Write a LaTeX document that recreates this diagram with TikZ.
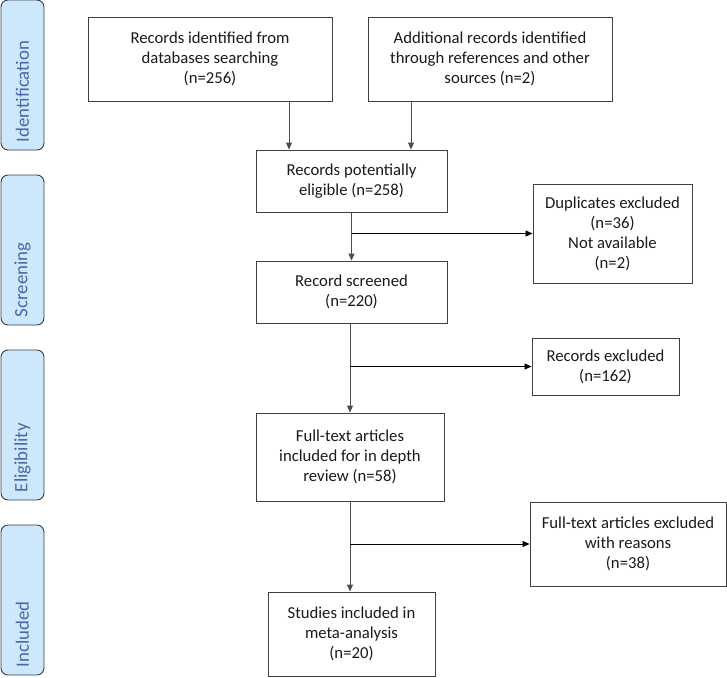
\documentclass[tikz,border=0pt]{standalone}
\usepackage{fontspec}
\setmainfont{Carlito}
\usetikzlibrary{arrows.meta}
\definecolor{sidefill}{RGB}{205,232,251}
\definecolor{sidetext}{RGB}{70,105,165}
\definecolor{sideline}{RGB}{50,60,75}
\begin{document}
\begin{tikzpicture}[x=1pt,y=-1pt, >={Triangle[length=7pt,width=6pt]},
  box/.style={rectangle, draw=black!75, line width=0.9pt, align=center, inner sep=2pt,
    font=\fontsize{16.7}{20}\selectfont, text=black!90},
  side/.style={rectangle, rounded corners=7pt, draw=sideline, line width=0.9pt, fill=sidefill,
    rotate=90, inner xsep=8pt, text width=134pt, align=left, minimum height=43pt, text=sidetext,
    font=\fontsize{18.8}{22}\selectfont},
  trunk/.style={->, draw=black!70, line width=0.9pt},
  branch/.style={->, draw=black, line width=0.8pt}]
\useasboundingbox (0,0) rectangle (727,677);
\node (lblid) at (22.5,75) [side] {Identification};
\node (lblscr) at (22.5,250) [side] {Screening};
\node (lblelig) at (22.5,425) [side] {Eligibility};
\node (lblinc) at (22.5,600) [side] {Included};
\node (dbrec) at (210,59) [box, minimum width=244pt, minimum height=84pt] {Records identified from\\databases searching\\(n=256)};
\node (othrec) at (490,59) [box, minimum width=244pt, minimum height=84pt] {Additional records identified\\through references and other\\sources (n=2)};
\node (poteli) at (351.5,181) [box, minimum width=191pt, minimum height=62pt] {Records potentially\\eligible (n=258)};
\node (dupex) at (612.5,233.5) [box, minimum width=159pt, minimum height=99pt] {Duplicates excluded\\(n=36)\\Not available\\(n=2)};
\node (screened) at (351.5,292) [box, minimum width=191pt, minimum height=62pt] {Record screened\\(n=220)};
\node (recex) at (605.5,366.5) [box, minimum width=147pt, minimum height=57pt] {Records excluded\\(n=162)};
\node (fulltext) at (350,457) [box, minimum width=188pt, minimum height=88pt] {Full-text articles\\included for in depth\\review (n=58)};
\node (ftex) at (628,544) [box, minimum width=196pt, minimum height=84pt] {Full-text articles excluded\\with reasons\\(n=38)};
\node (studies) at (351.5,634) [box, minimum width=167pt, minimum height=84pt] {Studies included in\\meta-analysis\\(n=20)};
\draw[trunk] ([xshift=79pt]dbrec.south) -- ([xshift=79pt]dbrec.south |- poteli.north);
\draw[trunk] ([xshift=-79pt]othrec.south) -- ([xshift=-79pt]othrec.south |- poteli.north);
\draw[trunk] (poteli.south) -- (screened.north);
\draw[branch] (poteli.south |- dupex.west) -- (dupex.west);
\draw[trunk] ([xshift=-1.5pt]screened.south) -- ([xshift=-1.5pt]screened.south |- fulltext.north);
\draw[branch] ([xshift=-1.5pt]screened.south |- recex.west) -- (recex.west);
\draw[trunk] (fulltext.south) -- (fulltext.south |- studies.north);
\draw[branch] (fulltext.south |- ftex.west) -- (ftex.west);
\end{tikzpicture}
\end{document}
